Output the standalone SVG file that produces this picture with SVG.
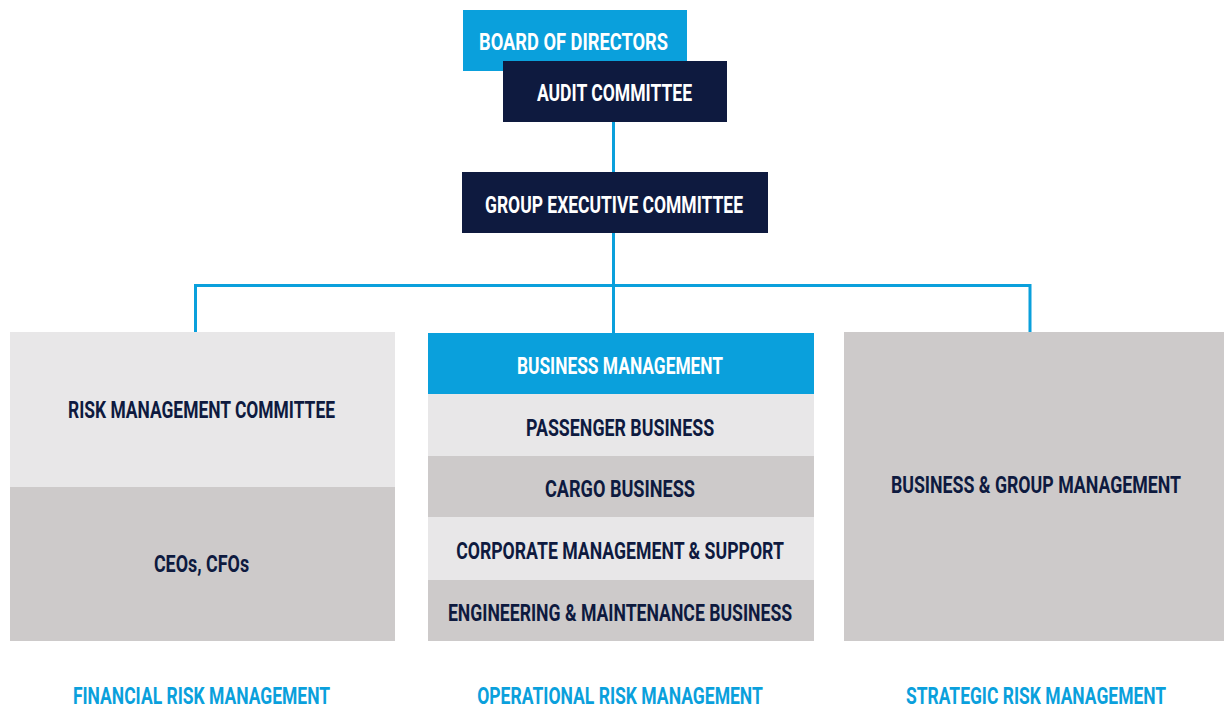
<svg xmlns="http://www.w3.org/2000/svg" width="1224" height="709" viewBox="0 0 1224 709">
  <style>
    .t { font-family: Roboto, "Liberation Sans", sans-serif; font-weight: 700; font-size: 24.5px; text-anchor: middle; }
    .w { fill: #ffffff; }
    .n { fill: #0e1a3f; }
    .b { fill: #0aa0dc; }
    .blue { fill: #0aa0dc; }
    .navy { fill: #0e1a3f; }
    .lt { fill: #e8e7e8; }
    .dk { fill: #cdcaca; }
    .link { fill: none; stroke: #0aa0dc; stroke-width: 3; }
  </style>
  <rect width="1224" height="709" fill="#ffffff"/>

  <!-- connectors -->
  <g id="connectors">
    <line class="link" x1="613.5" y1="122" x2="613.5" y2="172"/>
    <line class="link" x1="613.5" y1="233" x2="613.5" y2="333"/>
    <polyline class="link" points="195.5,332 195.5,285.5 1030,285.5 1030,332"/>
  </g>

  <!-- labels are drawn in a condensed style: x scaled by 0.75, widths given in local units -->
  <g id="board">
    <rect class="blue" x="463" y="10" width="224" height="61"/>
    <text class="t w" transform="translate(573.5 50) scale(0.75 1)" textLength="252" lengthAdjust="spacingAndGlyphs">BOARD OF DIRECTORS</text>
  </g>

  <g id="audit">
    <rect class="navy" x="503" y="61" width="224" height="61"/>
    <text class="t w" transform="translate(614.5 101) scale(0.75 1)" textLength="207" lengthAdjust="spacingAndGlyphs">AUDIT COMMITTEE</text>
  </g>

  <g id="group-exec">
    <rect class="navy" x="462" y="172" width="306" height="61"/>
    <text class="t w" transform="translate(614 213) scale(0.75 1)" textLength="344" lengthAdjust="spacingAndGlyphs">GROUP EXECUTIVE COMMITTEE</text>
  </g>

  <g id="financial">
    <rect class="lt" x="10" y="332" width="385" height="155"/>
    <text class="t n" transform="translate(201.5 418) scale(0.75 1)" textLength="356" lengthAdjust="spacingAndGlyphs">RISK MANAGEMENT COMMITTEE</text>
    <rect class="dk" x="10" y="487" width="385" height="154"/>
    <text class="t n" transform="translate(201.5 572) scale(0.75 1)" textLength="127" lengthAdjust="spacingAndGlyphs">CEOs, CFOs</text>
  </g>

  <g id="operational">
    <rect class="blue" x="428" y="333" width="386" height="61"/>
    <text class="t w" transform="translate(620 374) scale(0.75 1)" textLength="275" lengthAdjust="spacingAndGlyphs">BUSINESS MANAGEMENT</text>
    <rect class="lt" x="428" y="394" width="386" height="62"/>
    <text class="t n" transform="translate(620 436) scale(0.75 1)" textLength="251" lengthAdjust="spacingAndGlyphs">PASSENGER BUSINESS</text>
    <rect class="dk" x="428" y="456" width="386" height="61"/>
    <text class="t n" transform="translate(620 497) scale(0.75 1)" textLength="200" lengthAdjust="spacingAndGlyphs">CARGO BUSINESS</text>
    <rect class="lt" x="428" y="517" width="386" height="63"/>
    <text class="t n" transform="translate(620 559) scale(0.75 1)" textLength="437" lengthAdjust="spacingAndGlyphs">CORPORATE MANAGEMENT &amp; SUPPORT</text>
    <rect class="dk" x="428" y="580" width="386" height="61"/>
    <text class="t n" transform="translate(620 621) scale(0.75 1)" textLength="459" lengthAdjust="spacingAndGlyphs">ENGINEERING &amp; MAINTENANCE BUSINESS</text>
  </g>

  <g id="strategic">
    <rect class="dk" x="844" y="332" width="380" height="309"/>
    <text class="t n" transform="translate(1036 493) scale(0.75 1)" textLength="387" lengthAdjust="spacingAndGlyphs">BUSINESS &amp; GROUP MANAGEMENT</text>
  </g>

  <g id="labels">
    <text class="t b" transform="translate(201.5 704) scale(0.75 1)" textLength="343" lengthAdjust="spacingAndGlyphs">FINANCIAL RISK MANAGEMENT</text>
    <text class="t b" transform="translate(620 704) scale(0.75 1)" textLength="381" lengthAdjust="spacingAndGlyphs">OPERATIONAL RISK MANAGEMENT</text>
    <text class="t b" transform="translate(1036 704) scale(0.75 1)" textLength="347" lengthAdjust="spacingAndGlyphs">STRATEGIC RISK MANAGEMENT</text>
  </g>
</svg>
